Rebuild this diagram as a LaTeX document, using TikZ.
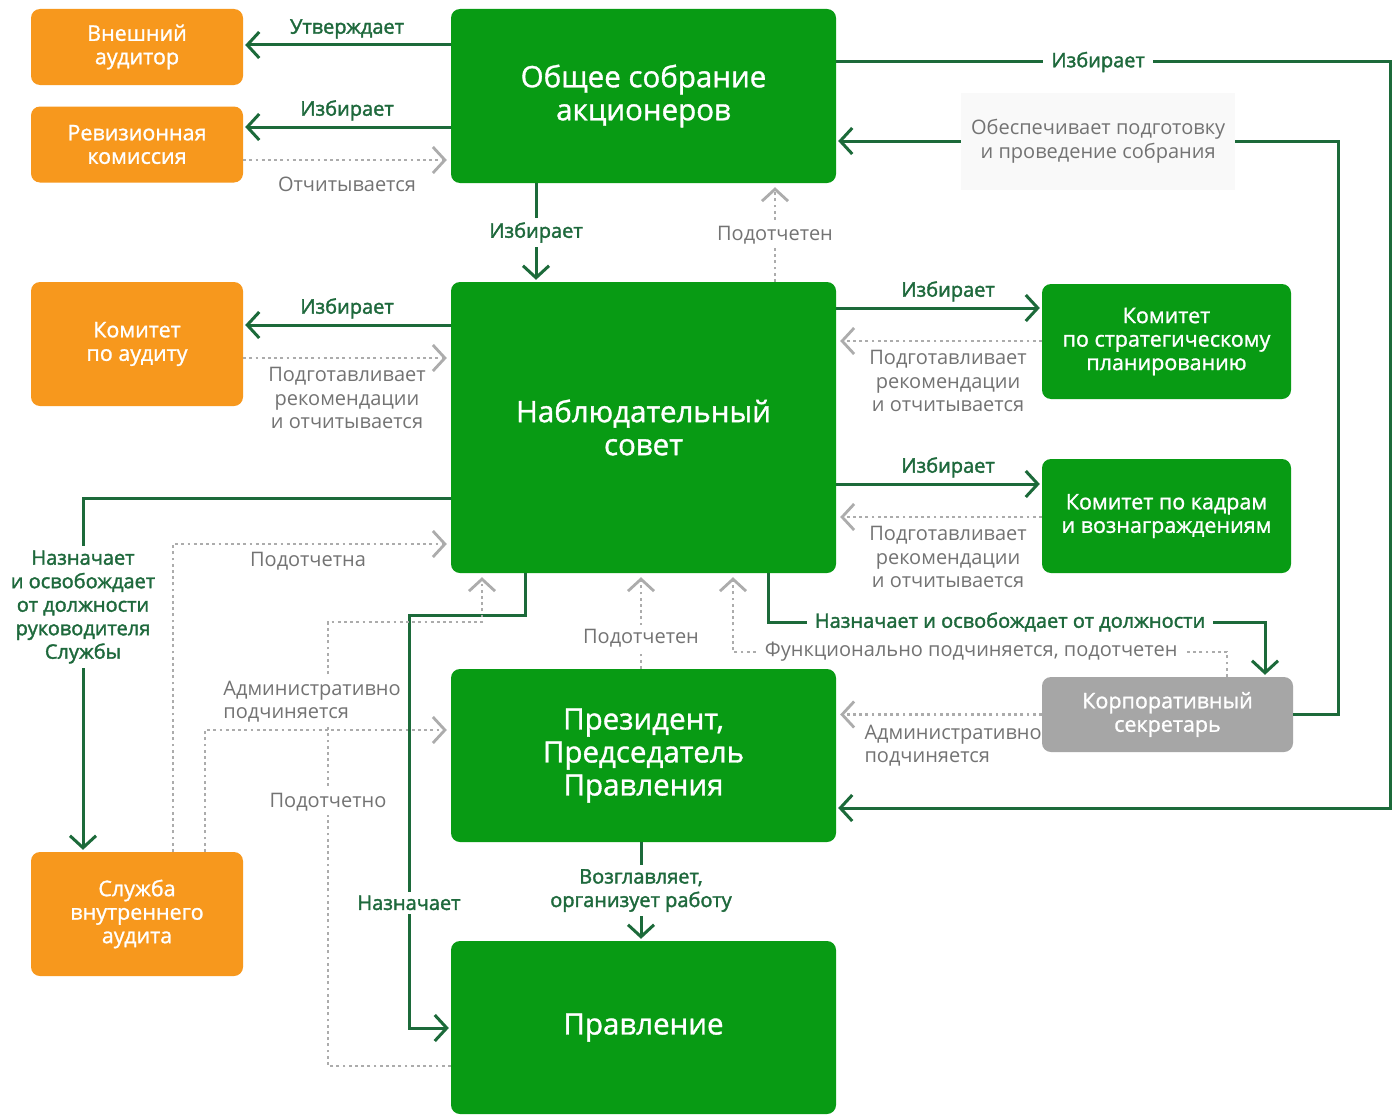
\documentclass[tikz,border=0pt]{standalone}
\usepackage{fontspec}
\setmainfont{Open Sans}
\newfontfamily\medfont{Open Sans}[FakeBold=1.2]
\newfontfamily\semifont{Open Sans}[FakeBold=1.8]
\usepackage{tikz}
\usetikzlibrary{calc,arrows.meta,positioning}

\definecolor{boxgreen}{RGB}{8,155,20}
\definecolor{boxorange}{RGB}{247,152,29}
\definecolor{boxgray}{RGB}{166,166,166}
\definecolor{linegreen}{RGB}{28,106,58}
\definecolor{txtgreen}{RGB}{30,105,60}
\definecolor{linegray}{RGB}{172,172,172}
\definecolor{txtgray}{RGB}{115,115,115}
\definecolor{labelbg}{RGB}{249,249,249}

\tikzset{
  box/.style={rounded corners=9pt, text=white, align=center, inner sep=0pt},
  big/.style={box, fill=boxgreen, minimum width=385pt, minimum height=174pt, font=\medfont\fontsize{29.5}{33}\selectfont},
  small/.style={box, minimum width=212pt, minimum height=76pt, font=\medfont\fontsize{21.5}{23.5}\selectfont},
  link/.style={draw=linegreen, line width=3pt, shorten >=2pt, -{Straight Barb[length=12pt,width=26pt]}},
  rep/.style={draw=linegray, line width=2.8pt, dash pattern=on 2.8pt off 3.4pt, shorten >=4pt, -{Straight Barb[length=12pt,width=26pt]}},
  glbl/.style={text=txtgreen, font=\semifont\fontsize{20}{23.5}\selectfont, align=center, inner sep=1pt},
  ylbl/.style={text=txtgray, font=\fontsize{20}{23.5}\selectfont, align=center, inner sep=1pt},
  gap/.style={fill=white, inner xsep=8pt, inner ysep=4pt}
}

\begin{document}
\begin{tikzpicture}[x=1pt, y=-1pt]
\useasboundingbox (0,0) rectangle (1397,1116);
\fill[white] (0,0) rectangle (1397,1116);

%boxes
\node[small, fill=boxorange] (ext) at (137,47) {Внешний\\аудитор};
\node[small, fill=boxorange] (rev) at (137,144.5) {Ревизионная\\комиссия};
\node[small, fill=boxorange, minimum height=124pt] (audc) at (137,344) {Комитет\\по аудиту};
\node[small, fill=boxorange, minimum height=124pt] (ia) at (137,914) {Служба\\внутреннего\\аудита};
\node[big] (gsm) at (643.5,96) {Общее собрание\\акционеров};
\node[big, minimum height=291pt] (board) at (643.5,427.5) {Наблюдательный\\совет};
\node[big, minimum height=173pt] (pres) at (643.5,755.5) {Президент,\\Председатель\\Правления};
\node[big, minimum height=173pt] (mgmt) at (643.5,1027.5) {Правление};
\node[small, fill=boxgreen, minimum width=249pt, minimum height=115pt] (strat) at (1166.5,341.5) {Комитет\\по стратегическому\\планированию};
\node[small, fill=boxgreen, minimum width=249pt, minimum height=114pt] (hr) at (1166.5,516) {Комитет по кадрам\\и вознаграждениям};
\node[small, fill=boxgray, minimum width=251pt, minimum height=75pt] (sec) at (1167.5,714.5) {Корпоративный\\секретарь};

%general meeting
\draw[link] (gsm.west |- 0,45) -- node[glbl, above=4pt] {Утверждает} (ext.east |- 0,45);
\draw[link] (gsm.west |- 0,127) -- node[glbl, above=4pt] {Избирает} (rev.east |- 0,127);
\draw[link] (gsm.south -| 536,0) -- node[glbl, gap] {Избирает} (board.north -| 536,0);
\draw[link] (gsm.east |- 0,62) -- node[glbl, gap, pos=.473] {Избирает} (1390,62) -- (1390,808) -- (pres.east |- 0,808);
\draw[link] (sec.east) -- (1338,714.5) -- (1338,141) -- node[ylbl, fill=labelbg, minimum width=274pt, minimum height=97pt, pos=.478] {Обеспечивает подготовку\\и проведение собрания} (gsm.east |- 0,141);

%board
\draw[link] (board.west |- 0,325) -- node[glbl, above=4pt] {Избирает} (audc.east |- 0,325);
\foreach \c/\ya/\yb in {strat/308/341, hr/484/517}{
  \draw[link] (board.east |- 0,\ya) -- node[glbl, above=4pt, pos=.544] {Избирает} (\c.west |- 0,\ya);
  \draw[rep] (\c.west |- 0,\yb) -- node[ylbl, below=7pt, pos=.456] {Подготавливает\\рекомендации\\и отчитывается} (board.east |- 0,\yb);
}
\draw[link] (board.west |- 0,498) -- (83,498) -- node[glbl, gap, pos=.308] {Назначает\\и освобождает\\от должности\\руководителя\\Службы} (ia.north -| 83,0);
\draw[link] (board.south -| 525,0) -- (525,615) -- (409,615) -- node[glbl, gap, pos=.697] {Назначает} (409,1028) -- (mgmt.west |- 0,1028);
\draw[link] (board.south -| 768,0) -- (768,622) -- node[glbl, gap, pos=.487] {Назначает и освобождает от должности} (1265,622) -- (sec.north -| 1265,0);
\draw[link] (pres.south -| 641,0) -- node[glbl, gap, pos=.49] {Возглавляет,\\организует работу} (mgmt.north -| 641,0);

%reporting
\draw[rep] (rev.east |- 0,160) -- node[ylbl, below=15pt] {Отчитывается} (gsm.west |- 0,160);
\draw[rep] (board.north -| 775,0) -- node[ylbl, gap, pos=.47] {Подотчетен} (gsm.south -| 775,0);
\draw[rep] (audc.east |- 0,358) -- node[ylbl, below=7pt] {Подготавливает\\рекомендации\\и отчитывается} (board.west |- 0,358);
\draw[rep] (ia.north -| 173,0) -- (173,544) -- node[ylbl, below=6pt, pos=.486] {Подотчетна} (board.west |- 0,544);
\draw[rep] (mgmt.west |- 0,1066) -- (328,1066) -- node[ylbl, gap, pos=.595] {Подотчетно} (328,622) -- (482,622) -- (board.south -| 482,0);
\draw[rep] (ia.north -| 205,0) -- (205,730) -- node[ylbl, fill=white, inner sep=3pt, anchor=south west, align=left, pos=.057, yshift=3pt] {Административно\\подчиняется} (pres.west |- 0,730);
\draw[rep] (pres.north -| 641,0) -- node[ylbl, gap, pos=.32] {Подотчетен} (board.south -| 641,0);
\draw[rep] (sec.north -| 1227,0) -- (1227,652) -- node[ylbl, gap, pos=.518] {Функционально подчиняется, подотчетен} (733,652) -- (board.south -| 733,0);
\draw[rep] (sec.west) -- node[ylbl, anchor=north west, align=left, pos=.874, yshift=-8pt] {Административно\\подчиняется} (pres.east |- sec.west);
\end{tikzpicture}
\end{document}
